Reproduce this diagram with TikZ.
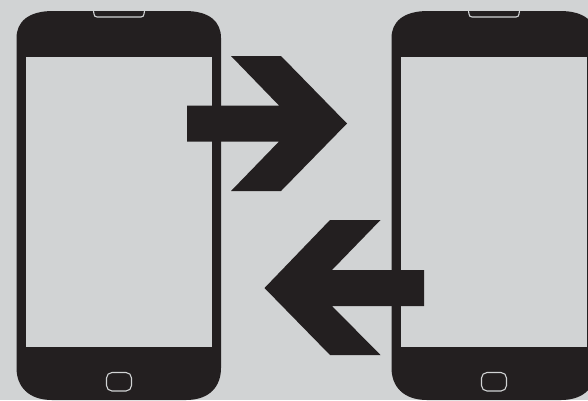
\documentclass[tikz,border=0pt]{standalone}
\usepackage{xcolor}
\usepackage{tikz}
\definecolor{phonegray}{HTML}{D1D3D4}
\definecolor{phoneblack}{HTML}{231F20}

\begin{document}
\begin{tikzpicture}[
    x=1pt, y=-1pt,
    body/.style={fill=phoneblack},
    screen/.style={fill=phonegray},
    trim/.style={draw=phonegray, line width=1.1pt},
    bigarrow/.style={fill=phoneblack},
]
\useasboundingbox[fill=phonegray] (0,0) rectangle (588,400);

\foreach \dx in {0,375} {
    \begin{scope}[xshift=\dx pt]
    \fill[body] (16.5,38) .. controls (16.5,22) and (28,11) .. (53,11) -- (185,11)
        .. controls (210,11) and (221,22) .. (221,38) -- (221,368)
        .. controls (221,386) and (210,400) .. (186,400) -- (52,400)
        .. controls (28,400) and (16.5,386) .. (16.5,368) -- cycle;
    \fill[screen] (26,57) rectangle (212,346.5);
    \draw[trim] (93.5,11) -- (94,14) .. controls (94.3,16) and (95,17) .. (97,17) -- (141,17)
        .. controls (143,17) and (143.7,16) .. (144,14) -- (144.5,11);
    \draw[trim, rounded corners=5.5pt] (106.5,372.5) rectangle (131.5,391);
    \end{scope}
}

\fill[bigarrow] (187,105.5) -- (279,105.5) -- (231,56) -- (281,56) -- (347,123.5)
    -- (281,191) -- (231,191) -- (279,141.5) -- (187,141.5) -- cycle;
\fill[bigarrow] (424,270) -- (332,270) -- (380.5,220) -- (330,220) -- (264.5,288)
    -- (330,355) -- (380.5,355) -- (332,306) -- (424,306) -- cycle;
\end{tikzpicture}
\end{document}
